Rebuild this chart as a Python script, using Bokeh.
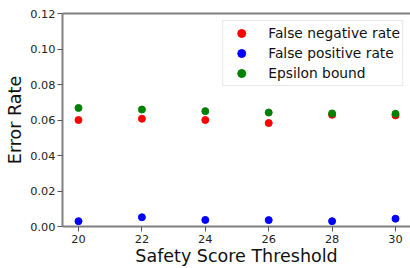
from bokeh.plotting import figure
from bokeh.models import Range1d, FixedTicker, NumeralTickFormatter, LinearAxis, Legend, LegendItem
from bokeh.embed import file_html
from bokeh.resources import INLINE

thresholds = [20, 22, 24, 26, 28, 30]
false_negative_rate = [0.0600, 0.0607, 0.0600, 0.0583, 0.0629, 0.0626]
false_positive_rate = [0.0030, 0.0052, 0.0037, 0.0036, 0.0030, 0.0044]
epsilon_bound = [0.0668, 0.0659, 0.0650, 0.0642, 0.0637, 0.0635]
x_ticks = [20, 22, 24, 26, 28, 30]
y_ticks = [0.0, 0.02, 0.04, 0.06, 0.08, 0.10, 0.12]
x_title = "Safety Score Threshold"
y_title = "Error Rate"

FONT = "DejaVu Sans"
SPINE = "#808080"

p = figure(width=410, height=268, output_backend="svg", toolbar_location=None,
           x_range=Range1d(19.495, 30.473), y_range=Range1d(0.0, 0.12),
           min_border_left=62, min_border_right=0, min_border_top=13, min_border_bottom=40)
p.grid.visible = False
p.outline_line_color = None
p.background_fill_color = "white"
p.border_fill_color = "white"

r1 = p.scatter(thresholds, false_negative_rate, size=7, color="#ff0000")
r2 = p.scatter(thresholds, false_positive_rate, size=7, color="#0000ff")
r3 = p.scatter(thresholds, epsilon_bound, size=7, color="#008000")

for ax in (p.xaxis[0], p.yaxis[0]):
    ax.axis_line_color = SPINE
    ax.axis_line_width = 2
    ax.major_tick_line_color = "#555555"
    ax.major_tick_line_width = 1
    ax.major_tick_out = 5
    ax.major_tick_in = 0
    ax.minor_tick_line_color = None
    ax.major_label_text_font = FONT
    ax.major_label_text_font_size = "11.3px"
    ax.major_label_text_color = "#222222"
    ax.axis_label_text_font = FONT
    ax.axis_label_text_font_size = "17.5px"
    ax.axis_label_text_font_style = "normal"
    ax.axis_label_text_color = "#111111"

p.xaxis.ticker = FixedTicker(ticks=x_ticks)
p.yaxis.ticker = FixedTicker(ticks=y_ticks)
p.yaxis.formatter = NumeralTickFormatter(format="0.00")
p.xaxis.axis_label = x_title
p.yaxis.axis_label = y_title
p.xaxis.major_label_standoff = 3
p.xaxis.axis_label_standoff = 0
p.yaxis.major_label_standoff = 2
p.yaxis.axis_label_standoff = 2

top = LinearAxis(ticker=FixedTicker(ticks=[]), axis_line_color=SPINE, axis_line_width=2,
                 major_tick_line_color=None, minor_tick_line_color=None)
p.add_layout(top, "above")

legend = Legend(items=[
    LegendItem(label="False negative rate", renderers=[r1]),
    LegendItem(label="False positive rate", renderers=[r2]),
    LegendItem(label="Epsilon bound", renderers=[r3]),
], location="top_right")
legend.label_text_font = FONT
legend.label_text_font_size = "13.8px"
legend.label_text_color = "#111111"
legend.border_line_color = "#d0d0d0"
legend.border_line_width = 1
legend.background_fill_color = "white"
legend.background_fill_alpha = 0.8
legend.padding = 2
legend.spacing = 0
legend.glyph_width = 32
legend.glyph_height = 20
legend.label_height = 20
legend.label_standoff = 11
legend.margin = 7
p.add_layout(legend)

open("out.html", "w").write(file_html(p, INLINE))
